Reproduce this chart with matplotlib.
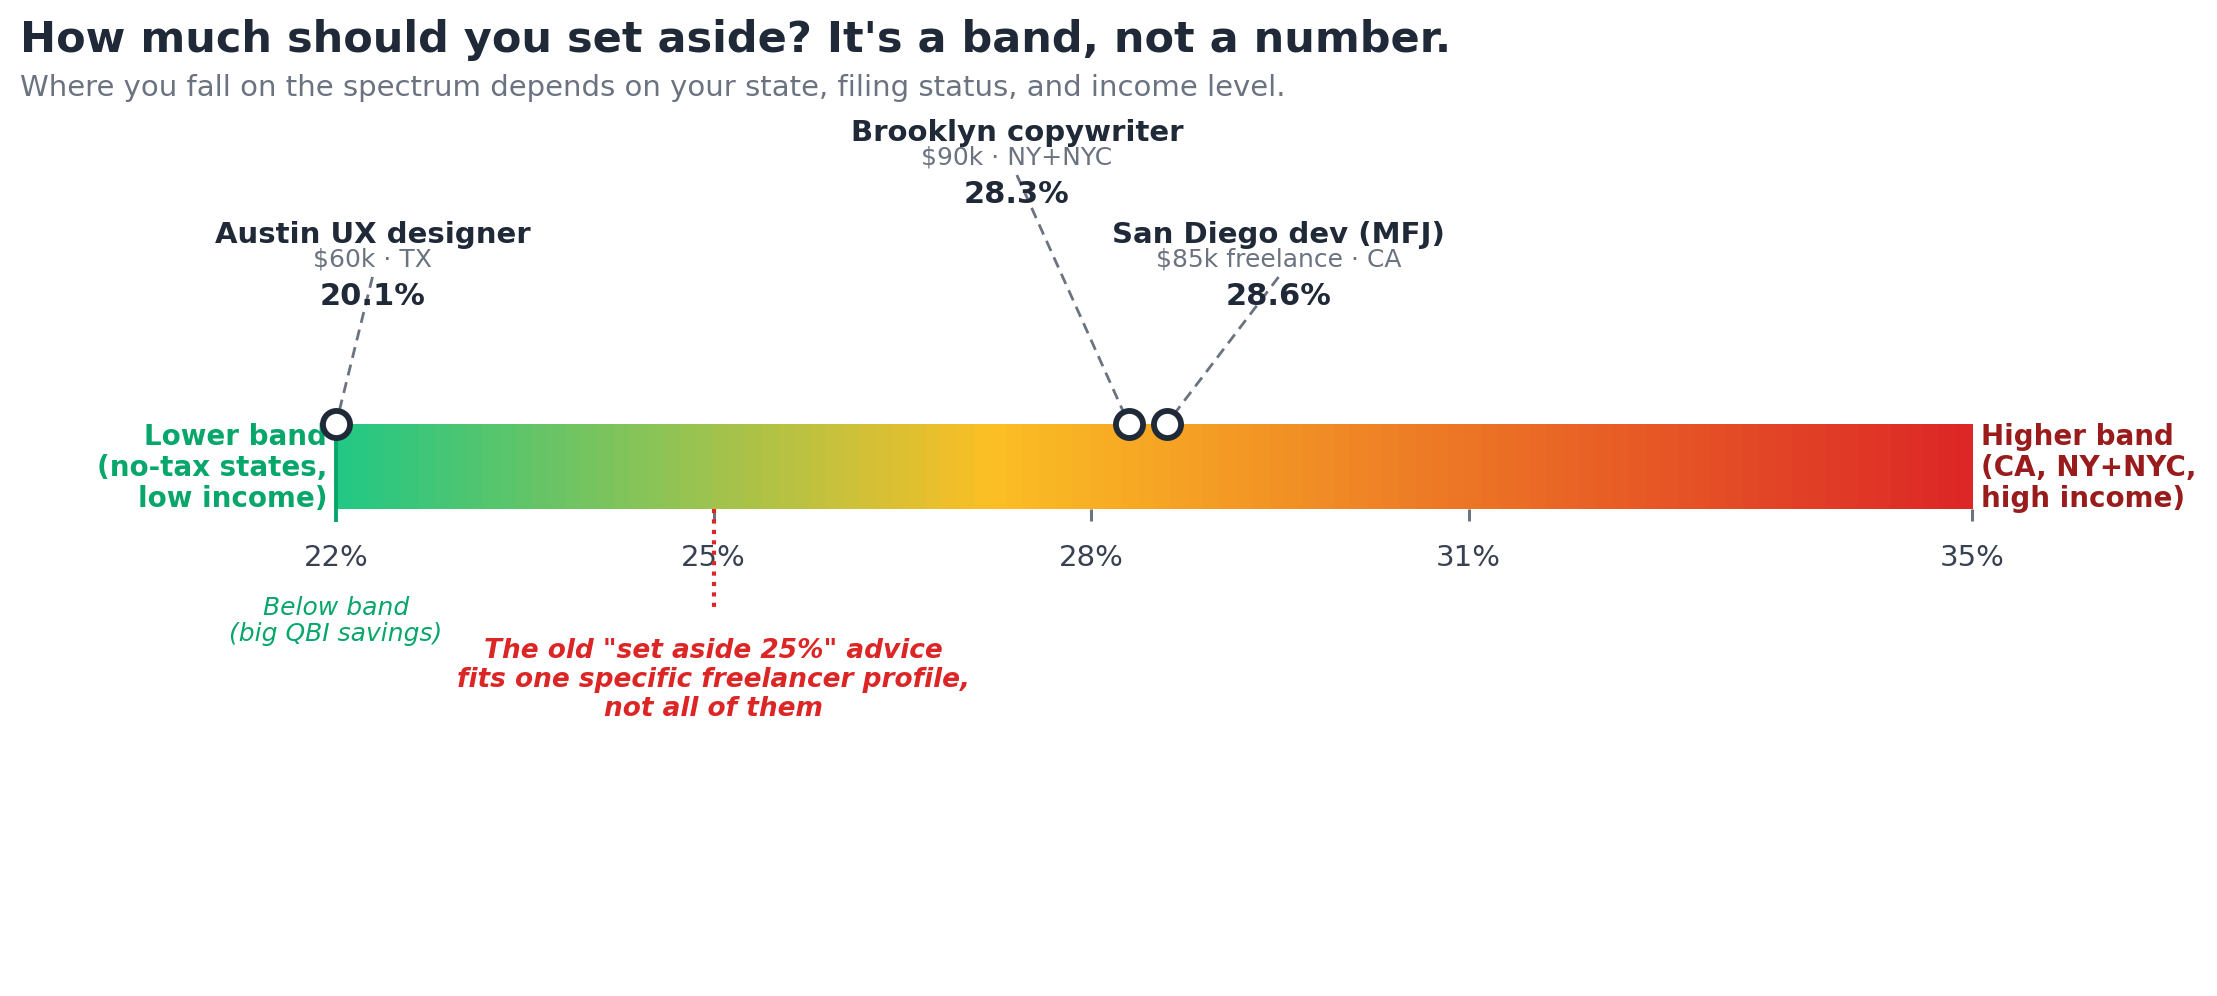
import numpy as np
import matplotlib
matplotlib.use("Agg")
import matplotlib.pyplot as plt
from matplotlib.colors import LinearSegmentedColormap

# ---------------- data ----------------
band_low, band_high = 22, 35
tick_values = [22, 25, 28, 31, 35]
tick_labels = ["22%", "25%", "28%", "31%", "35%"]
old_rule = 25

names = ["Austin UX designer", "Brooklyn copywriter", "San Diego dev (MFJ)"]
details = ["$60k · TX", "$90k · NY+NYC", "$85k freelance · CA"]
rates = [20.1, 28.3, 28.6]

# layout (label offsets in % units, label tiers in px)
label_dx = [0.29, -0.89, 0.89]
label_tier = [0, -102, 0]

# ---------------- figure ----------------
W, H = 2217, 996
fig = plt.figure(figsize=(W / 100, H / 100), dpi=100)
ax = fig.add_axes([0, 0, 1, 1])
px_per = (1972 - 336) / (band_high - band_low)
x0 = band_low - 336 / px_per
x1 = band_low + (W - 336) / px_per
ax.set_xlim(x0, x1)
ax.set_ylim(H, 0)
ax.axis("off")

DARK = "#1f2937"
GRAY = "#6b7280"
GREEN = "#07a66a"
DRED = "#991b1b"
RED = "#dc2626"

cmap = LinearSegmentedColormap.from_list(
    "band", [(0.0, "#22c785"), (0.4, "#fbbf24"), (1.0, "#dc2626")])

bar_top, bar_bot = 424, 509
nseg = 100
edges = np.linspace(band_low, band_high, nseg + 1)
for i in range(nseg):
    ax.bar(edges[i], bar_bot - bar_top, width=edges[i + 1] - edges[i] + 0.005,
           bottom=bar_top, align="edge", color=cmap((i + 0.5) / nseg),
           linewidth=0, zorder=1)

# ticks
for t, lab in zip(tick_values, tick_labels):
    if t != band_low:
        ax.plot([t, t], [bar_bot, 521], color=GRAY, lw=2.2, zorder=2,
                solid_capstyle="butt")
    ax.text(t, 558, lab, ha="center", va="center", fontsize=21, color="#374151")

# left green boundary
ax.plot([band_low, band_low], [bar_top, 522], color=GREEN, lw=2.8, zorder=3,
        solid_capstyle="butt")
# old rule red dotted line
ax.plot([old_rule, old_rule], [bar_bot, 613], color=RED, lw=3.0,
        linestyle=(0, (1, 1.5)), zorder=3)

# end labels
ax.text(band_low - 0.07, 468, "Lower band\n(no-tax states,\nlow income)",
        ha="right", va="center", fontsize=20, fontweight="bold", color=GREEN,
        linespacing=1.15, zorder=2)
ax.text(band_high + 0.07, 468, "Higher band\n(CA, NY+NYC,\nhigh income)",
        ha="left", va="center", fontsize=20, fontweight="bold", color=DRED,
        linespacing=1.15)

ax.text(band_low, 621, "Below band\n(big QBI savings)", ha="center",
        va="center", fontsize=18, fontstyle="italic", color=GREEN,
        linespacing=1.15)
ax.text(old_rule, 680,
        "The old \"set aside 25%\" advice\nfits one specific freelancer profile,\nnot all of them",
        ha="center", va="center", fontsize=19, fontstyle="italic",
        fontweight="bold", color=RED, linespacing=1.15)

# markers & annotations
marker_x = np.clip(rates, band_low, band_high)
for name, det, r, mx, dx, tier in zip(names, details, rates, marker_x,
                                       label_dx, label_tier):
    tx = mx + dx if r >= band_low else band_low + dx
    ax.plot([tx, mx], [277 + tier, bar_top], color=GRAY, lw=2.0,
            linestyle=(0, (4, 2.5)), zorder=2)
    ax.text(tx, 243 + tier, name, ha="center", va="baseline", fontsize=21,
            fontweight="bold", color=DARK)
    ax.text(tx, 266 + tier, det, ha="center", va="baseline", fontsize=18,
            color=GRAY)
    ax.text(tx, 305 + tier, f"{r:.1f}%", ha="center", va="baseline",
            fontsize=22, fontweight="bold", color=DARK)
ax.plot(marker_x, [bar_top] * len(marker_x), "o", ms=19.5, mfc="white",
        mec=DARK, mew=4.2, zorder=6, linestyle="none")

fig.text(20 / W, 1 - 52 / H,
         "How much should you set aside? It's a band, not a number.",
         ha="left", va="baseline", fontsize=31, fontweight="bold", color=DARK)
fig.text(20 / W, 1 - 96 / H,
         "Where you fall on the spectrum depends on your state, filing status, and income level.",
         ha="left", va="baseline", fontsize=21, color=GRAY)

fig.savefig("out.png", dpi=100, facecolor="white")
